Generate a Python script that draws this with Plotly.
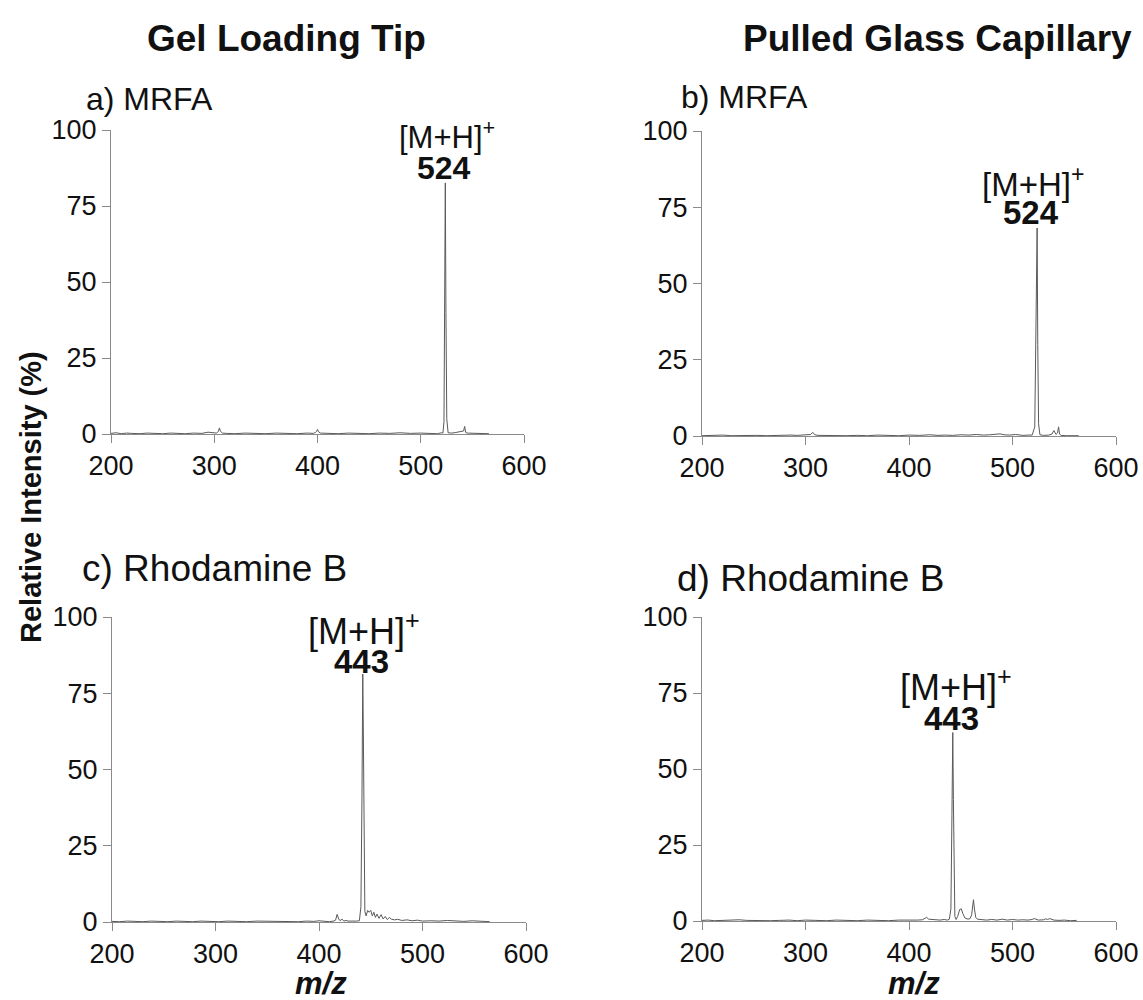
import plotly.graph_objects as go

W, H = 1143, 1000

# ---------------- data (m/z, relative intensity %) ----------------
A_MZ = [200, 205, 210, 215, 220, 228, 235, 242, 250, 258, 265, 272, 280, 288, 294, 298,
        302, 304, 305, 306, 308, 312, 320, 330, 340, 350, 360, 370, 380, 390, 396, 398,
        399, 400, 401, 403, 410, 420, 430, 440, 450, 460, 470, 480, 490, 500, 510, 516,
        520, 521.5, 522.5, 523.3, 523.8, 524.4, 525.2, 526.5, 530, 534, 537, 540, 541.5,
        542.5, 543.5, 545, 550, 556, 562, 566]
A_INT = [0.2, 0.4, 0.1, 0.3, 0.2, 0.1, 0.3, 0.2, 0.1, 0.3, 0.2, 0.1, 0.3, 0.2, 0.6, 0.4,
         0.3, 0.8, 2.0, 0.9, 0.3, 0.2, 0.1, 0.3, 0.2, 0.1, 0.3, 0.2, 0.1, 0.3, 0.2, 0.5,
         0.8, 1.5, 0.7, 0.3, 0.2, 0.1, 0.3, 0.2, 0.1, 0.3, 0.2, 0.4, 0.2, 0.3, 0.2, 0.1,
         0.4, 0.3, 4.0, 40.0, 82.6, 40.0, 5.0, 0.4, 0.3, 0.5, 0.7, 0.9, 1.0,
         2.5, 0.5, 0.3, 0.2, 0.1, 0.2, 0.1]

B_MZ = [200, 206, 213, 220, 228, 236, 245, 253, 262, 270, 278, 286, 292, 298, 302, 305,
        307, 309, 312, 320, 330, 340, 350, 360, 370, 380, 390, 400, 410, 420, 428, 435,
        442, 450, 458, 465, 472, 478, 484, 488, 492, 497, 503, 510, 515, 519, 521.5, 522.5,
        523.3, 523.8, 524.4, 525.2, 526.5, 530, 535, 538, 540, 542, 543.5, 544.5, 545.5,
        547, 552, 558, 564]
B_INT = [0.1, 0.2, 0.1, 0.3, 0.1, 0.2, 0.1, 0.2, 0.1, 0.2, 0.1, 0.3, 0.2, 0.4, 0.3, 0.5,
         1.2, 0.4, 0.2, 0.1, 0.2, 0.1, 0.2, 0.1, 0.3, 0.2, 0.1, 0.3, 0.2, 0.4, 0.2, 0.3,
         0.2, 0.4, 0.3, 0.5, 0.3, 0.4, 0.5, 0.7, 0.4, 0.3, 0.5, 0.2, 0.3, 0.3, 3.0, 30.0,
         55.0, 68.2, 30.0, 4.0, 0.4, 0.2, 0.3, 0.6, 1.8, 0.5, 1.0, 3.0, 0.6,
         0.2, 0.1, 0.2, 0.1]

C_MZ = [200, 207, 215, 222, 230, 238, 246, 254, 262, 270, 278, 286, 295, 303, 312, 320,
        330, 340, 350, 360, 370, 380, 388, 395, 400, 405, 410, 414, 416, 417.5, 419, 420.5,
        422, 424, 426, 428, 432, 436, 439, 440.5, 441.5, 442.3, 442.9, 443.5, 444.3, 445.5,
        447, 448.5, 450, 451.5, 453, 454.5, 456, 458, 460, 462, 464, 466, 468, 470, 473,
        476, 480, 485, 490, 495, 500, 508, 516, 524, 532, 540, 548, 556, 565]
C_INT = [0.2, 0.1, 0.3, 0.2, 0.1, 0.3, 0.2, 0.1, 0.3, 0.2, 0.1, 0.3, 0.2, 0.1, 0.3, 0.2,
         0.1, 0.3, 0.2, 0.1, 0.2, 0.1, 0.3, 0.2, 0.4, 0.2, 0.1, 0.3, 0.6, 2.5, 1.0, 0.4,
         1.0, 0.3, 0.5, 0.3, 0.2, 0.3, 0.4, 5.0, 40.0, 81.3, 60.0, 20.0, 3.5, 2.0,
         3.8, 3.2, 3.8, 2.0, 3.2, 1.5, 2.6, 1.2, 2.4, 1.0, 1.8, 0.8, 1.5, 0.9, 0.7,
         0.9, 0.5, 0.7, 0.4, 0.6, 0.3, 0.4, 0.3, 0.5, 0.3, 0.2, 0.4, 0.2, 0.1]

D_MZ = [200, 206, 212, 220, 228, 236, 243, 250, 258, 266, 275, 284, 292, 300, 310, 320,
        330, 340, 350, 360, 370, 380, 390, 400, 408, 413, 415, 417, 419, 422, 426, 430,
        434, 437, 439, 440.5, 441.5, 442.3, 442.9, 443.5, 444.3, 445.5, 447, 449, 450.5,
        452, 454, 457, 459, 460.5, 461.5, 462.3, 463.2, 464.5, 466, 470, 475, 480, 485,
        490, 495, 500, 505, 510, 515, 519, 521, 525, 530, 532, 534, 536, 540, 545, 550,
        556, 562]
D_INT = [0.2, 0.3, 0.1, 0.2, 0.1, 0.4, 0.2, 0.1, 0.2, 0.1, 0.2, 0.3, 0.1, 0.3, 0.2, 0.1,
         0.3, 0.2, 0.1, 0.3, 0.2, 0.1, 0.3, 0.2, 0.3, 0.4, 0.8, 1.2, 0.6, 0.5, 0.4, 0.3,
         0.5, 0.3, 0.6, 4.0, 35.0, 62.0, 40.0, 10.0, 1.5, 0.5,
         1.5, 3.8, 4.0, 2.5, 1.0, 0.6, 0.8, 2.0, 5.0, 7.0, 4.0, 1.2, 0.6, 0.5, 0.3, 0.5, 0.3,
         0.6, 0.3, 0.5, 0.3, 0.4, 0.3, 0.5, 0.8, 0.3, 0.4, 0.7, 0.5, 0.8, 0.3, 0.2, 0.3,
         0.1, 0.2]

PANELS = [
    ("a) MRFA", A_MZ, A_INT, "524"),
    ("b) MRFA", B_MZ, B_INT, "524"),
    ("c) Rhodamine B", C_MZ, C_INT, "443"),
    ("d) Rhodamine B", D_MZ, D_INT, "443"),
]
COLUMN_TITLES = ["Gel Loading Tip", "Pulled Glass Capillary"]
X_RANGE = [200, 600]
Y_RANGE = [0, 100]
X_TICKS = [200, 300, 400, 500, 600]
Y_TICKS = [0, 25, 50, 75, 100]

# ---------------- layout geometry (screen pixels) ----------------
FONT = "Arial, Liberation Sans, Helvetica, sans-serif"
boxes = [  # (left, right, top, bottom) in px
    (111, 524, 130, 434),
    (702, 1116, 131, 436),
    (112, 526, 617, 922),
    (702, 1116, 617, 921),
]

def px(x):
    return x / W

def py(y):
    return 1 - y / H

fig = go.Figure()

for i, ((label, mz, inten, peak), (l, r, t, b)) in enumerate(zip(PANELS, boxes)):
    n = "" if i == 0 else str(i + 1)
    fig.add_trace(go.Scatter(
        x=mz, y=inten, mode="lines",
        line=dict(color="#5a5a5a", width=1),
        xaxis="x" + n, yaxis="y" + n, showlegend=False, hoverinfo="skip"))
    axis_common = dict(showline=True, linecolor="#8a8a8a", linewidth=1,
                       ticks="outside", ticklen=8, tickcolor="#8a8a8a", tickwidth=1,
                       showgrid=False, zeroline=False,
                       tickfont=dict(family=FONT, size=27, color="#111"))
    fig.update_layout(**{
        "xaxis" + n: dict(domain=[px(l), px(r)], range=X_RANGE, tickvals=X_TICKS,
                          anchor="y" + n, **axis_common),
        "yaxis" + n: dict(domain=[py(b), py(t)], range=Y_RANGE, tickvals=Y_TICKS,
                          anchor="x" + n, **axis_common),
    })

ann = []

def add(text, x, y, size, xanchor="center", bold=False, italic=False, angle=0):
    if bold:
        text = "<b>" + text + "</b>"
    if italic:
        text = "<i>" + text + "</i>"
    ann.append(dict(text=text, x=px(x), y=py(y), xref="paper", yref="paper",
                    xanchor=xanchor, yanchor="middle", showarrow=False,
                    textangle=angle, borderpad=0,
                    font=dict(family=FONT, size=size, color="#111")))

# column titles
add(COLUMN_TITLES[0], 287, 38, 37, bold=True)
add(COLUMN_TITLES[1], 937, 38, 37, bold=True)

# panel labels
add(PANELS[0][0], 85, 99, 32, xanchor="left")
add(PANELS[1][0], 680, 97, 32, xanchor="left")
add(PANELS[2][0], 81, 568, 37, xanchor="left")
add(PANELS[3][0], 676, 578, 37, xanchor="left")

# peak labels
peak_lab = [
    (447, 135, 31, 444, 168, 32),
    (1033, 182, 33, 1031, 213, 33),
    (364, 629, 36, 361, 661, 33),
    (956, 685, 36, 951, 718, 33),
]
for (lab, mz, inten, peak), (x1, y1, s1, x2, y2, s2) in zip(PANELS, peak_lab):
    add("[M+H]<sup>+</sup>", x1, y1, s1)
    add(peak, x2, y2, s2, bold=True)

# axis titles
add("Relative Intensity (%)", 31, 497, 29, bold=True, angle=-90)
add("m/z", 321, 983, 31, bold=True, italic=True)
add("m/z", 914, 983, 31, bold=True, italic=True)

fig.update_layout(
    width=W, height=H,
    margin=dict(l=0, r=0, t=0, b=0, pad=0, autoexpand=False),
    paper_bgcolor="white", plot_bgcolor="white",
    annotations=ann,
    showlegend=False,
)

fig.write_html(
    "out.html",
    config={"displayModeBar": False},
    post_script="document.body.style.margin='0';document.body.style.overflow='hidden';",
)
